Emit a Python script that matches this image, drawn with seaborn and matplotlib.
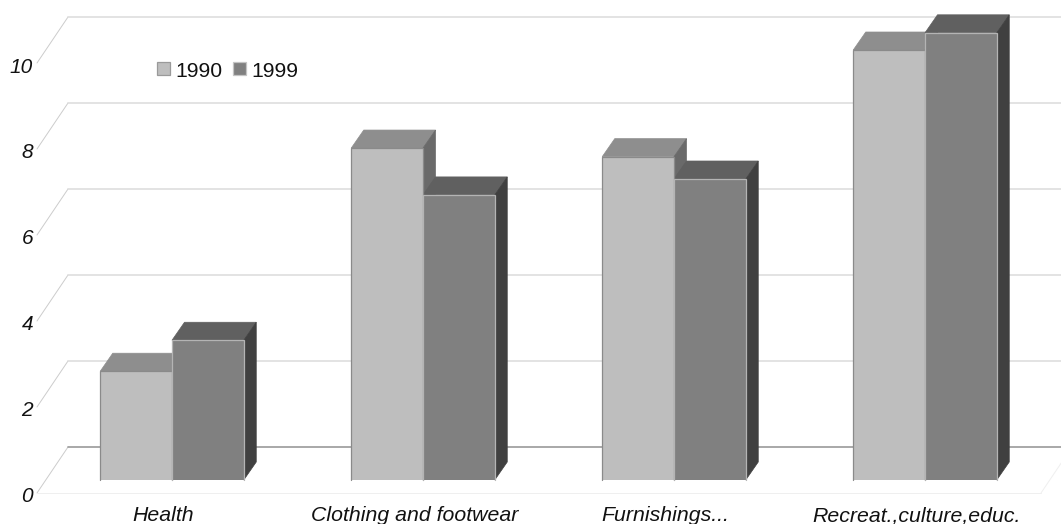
import matplotlib
matplotlib.use("Agg")
import matplotlib.pyplot as plt
from matplotlib.patches import Polygon
import pandas as pd
import seaborn as sns

categories = ["Health", "Clothing and footwear", "Furnishings...", "Recreat.,culture,educ."]
values_1990 = [2.53, 7.72, 7.52, 10.0]
values_1999 = [3.25, 6.63, 7.0, 10.4]
years = ["1990", "1999"]
y_ticks = [0, 2, 4, 6, 8, 10]

W, H = 1061, 524
PX_Y = 43.0        # pixels per value unit
PX_X = 251.0       # pixels per category
BASE_PX = 480.0    # pixel row of the bars' front base
FIRST_PX = 172.0   # pixel column of the first category centre

sns.set_theme(style="white")
plt.rcParams["font.family"] = ["Liberation Sans", "DejaVu Sans"]

df = pd.DataFrame({
    "category": categories * 2,
    "year": [years[0]] * 4 + [years[1]] * 4,
    "value": values_1990 + values_1999,
})

fig = plt.figure(figsize=(W / 100, H / 100), dpi=100, facecolor="white")
ax = fig.add_axes([0, 0, 1, 1])
ax.set_axis_off()

sns.barplot(data=df, x="category", y="value", hue="year", order=categories,
            hue_order=years, palette=["#bebebe", "#808080"], width=143.5 / PX_X,
            gap=0, saturation=1, legend=False, ax=ax, zorder=5,
            edgecolor="none", linewidth=0, errorbar=None)

ax.set_xlim(-FIRST_PX / PX_X, (W - FIRST_PX) / PX_X)
ax.set_ylim(-(H - BASE_PX) / PX_Y, BASE_PX / PX_Y)
ax.set_axis_off()

# helpers converting pixel offsets into data offsets
dx = lambda px: px / PX_X
dy = lambda px: px / PX_Y
col = lambda px: (px - FIRST_PX) / PX_X
row = lambda px: (BASE_PX - px) / PX_Y

# floor and back-wall grid drawn in an oblique projection
FRONT_L, BACK_L = col(37), col(68)
FRONT_R, BACK_R = col(1041), col(1072)
for v in y_ticks:
    front = row(493) + v
    back = row(447) + v
    ax.plot([FRONT_L, BACK_L], [front, back], color="#cccccc", lw=0.7, zorder=1)
    ax.plot([BACK_L, BACK_R], [back, back],
            color="#999999" if v == 0 else "#dedede",
            lw=1.2, zorder=1)
    ax.text(col(33), row(497) + v, str(v), ha="right", va="center",
            fontsize=15, style="italic", color="#111111")
ax.plot([FRONT_R, BACK_R], [row(493), row(447)], color="#efefef", lw=0.7, zorder=1)
ax.plot([FRONT_L, FRONT_R], [row(493), row(493)], color="#efefef", lw=0.7, zorder=1)

# extrude each bar backwards to give top and side faces
DEPTH_X, DEPTH_Y = dx(12.5), dy(18)
shades = {0: ("#8e8e8e", "#6a6a6a", "#8a8a8a"), 1: ("#606060", "#404040", "#b4b4b4")}
bars = [p for p in ax.patches if p.get_height() > 0]
n = len(categories)
for i, bar in enumerate(bars):
    s = i // n
    top_c, side_c, edge_c = shades[s]
    x0, w, h = bar.get_x(), bar.get_width(), bar.get_height()
    x1 = x0 + w
    order = 4 if s == 0 else 4.5
    ax.add_patch(Polygon([(x0, h), (x1, h), (x1 + DEPTH_X, h + DEPTH_Y), (x0 + DEPTH_X, h + DEPTH_Y)],
                         closed=True, fc=top_c, ec=top_c, lw=0.5, zorder=order))
    ax.add_patch(Polygon([(x1, 0), (x1 + DEPTH_X, DEPTH_Y), (x1 + DEPTH_X, h + DEPTH_Y), (x1, h)],
                         closed=True, fc=side_c, ec=side_c, lw=0.5, zorder=order))
    bar.set_zorder(6 if s == 1 else 5)
    ax.plot([x0, x0, x1, x1], [0, h, h, 0], color=edge_c, lw=0.9,
            zorder=6.5 if s == 1 else 5.5, solid_joinstyle="miter")

# category names sit slightly left of each group centre
for i, name in enumerate(categories):
    ax.text(i - dx(8.5), row(521), name, ha="center", va="baseline",
            fontsize=15.3, style="italic", color="#111111")

# legend keys and labels
for px, fc, ec, label in [(157, "#bebebe", "#9a9a9a", years[0]),
                          (233, "#808080", "#c4c4c4", years[1])]:
    ax.add_patch(plt.Rectangle((col(px), row(75)), dx(13), dy(13), fc=fc, ec=ec, lw=0.9, zorder=7))
    ax.text(col(px + 18.5), row(72), label, ha="left", va="center",
            fontsize=15.2, color="#111111", zorder=7)

fig.savefig("out.png", dpi=100)
